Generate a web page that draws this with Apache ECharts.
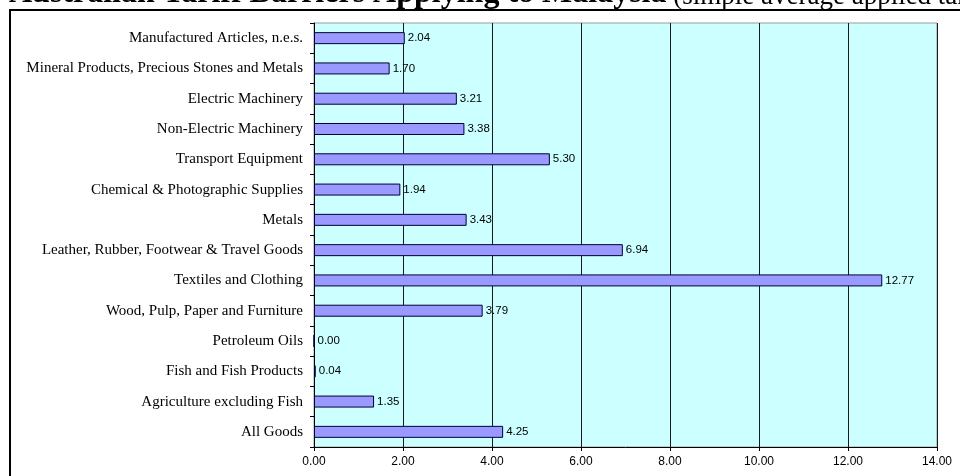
<!DOCTYPE html>
<html>
<head>
<meta charset="utf-8">
<script src="https://cdn.jsdelivr.net/npm/echarts@6/dist/echarts.min.js"></script>
<style>html,body{margin:0;padding:0;background:#fff;}#c{width:960px;height:476px;}</style>
</head>
<body>
<div id="c"></div>
<script>
const categories = [
  "All Goods",
  "Agriculture excluding Fish",
  "Fish and Fish Products",
  "Petroleum Oils",
  "Wood, Pulp, Paper and Furniture",
  "Textiles and Clothing",
  "Leather, Rubber, Footwear & Travel Goods",
  "Metals",
  "Chemical & Photographic Supplies",
  "Transport Equipment",
  "Non-Electric Machinery",
  "Electric Machinery",
  "Mineral Products, Precious Stones and Metals",
  "Manufactured Articles, n.e.s."
];
const tariffValues = [4.25, 1.35, 0.04, 0.00, 3.79, 12.77, 6.94, 3.43, 1.94, 5.30, 3.38, 3.21, 1.70, 2.04];
const xTicks = [0, 2, 4, 6, 8, 10, 12, 14];
const titleBold = "Australian Tariff Barriers Applying to Malaysia";
const titleRest = " (simple average applied tariffs, per cent)";

const chart = echarts.init(document.getElementById('c'), null, {renderer: 'canvas'});
chart.setOption({
  animation: false,
  backgroundColor: '#ffffff',
  title: {
    text: '{b|' + titleBold + '}{n|' + titleRest + '}',
    left: 9,
    top: -22,
    padding: 0,
    textStyle: {
      rich: {
        b: {fontFamily: 'Liberation Serif', fontWeight: 'bold', fontSize: 32, lineHeight: 32, color: '#000', verticalAlign: 'bottom'},
        n: {fontFamily: 'Liberation Serif', fontWeight: 'normal', fontSize: 27, lineHeight: 32, color: '#000', verticalAlign: 'bottom'}
      }
    }
  },
  graphic: [{
    type: 'rect',
    shape: {x: 10, y: 10, width: 980, height: 500},
    style: {fill: 'none', stroke: '#000', lineWidth: 2},
    silent: true,
    z: 100
  }],
  grid: {
    left: 314, right: 23, top: 23, bottom: 29,
    show: true,
    backgroundColor: '#CCFFFF',
    borderColor: '#9a9a9a',
    borderWidth: 1
  },
  xAxis: {
    type: 'value',
    min: xTicks[0], max: xTicks[xTicks.length - 1], interval: xTicks[1] - xTicks[0],
    axisLine: {show: true, onZero: false, lineStyle: {color: '#000', width: 1}},
    axisTick: {show: true, length: 4, lineStyle: {color: '#000'}},
    axisLabel: {
      fontFamily: 'Liberation Sans', fontSize: 12, color: '#000', margin: 9,
      formatter: v => v.toFixed(2)
    },
    splitLine: {show: true, lineStyle: {color: '#1a1a1a', width: 1}}
  },
  yAxis: {
    type: 'category',
    data: categories,
    axisLine: {show: true, lineStyle: {color: '#000', width: 1}},
    axisTick: {show: true, length: 4, lineStyle: {color: '#000'}},
    axisLabel: {fontFamily: 'Liberation Serif', fontSize: 15, color: '#000', margin: 11}
  },
  series: [{
    type: 'bar',
    data: tariffValues,
    barWidth: 12,
    itemStyle: {color: '#9999FF', borderColor: '#000033', borderWidth: 1},
    label: {
      show: true, position: 'right', distance: 3,
      fontFamily: 'Liberation Sans', fontSize: 11.5, color: '#000',
      formatter: p => p.value.toFixed(2)
    }
  }]
});
</script>
</body>
</html>
